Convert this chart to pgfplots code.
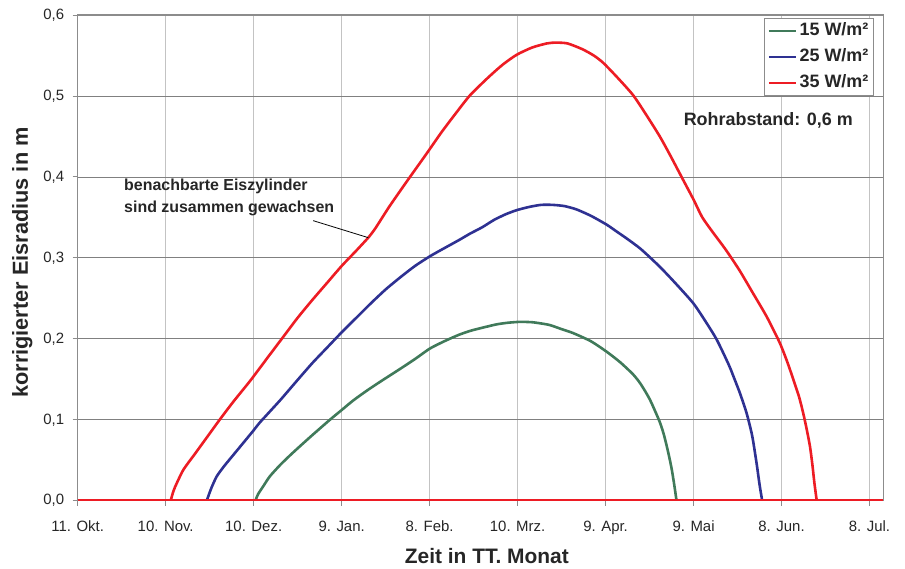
\documentclass[border=0pt]{standalone}
\usepackage{fontspec}
\setmainfont{Liberation Sans}
\usepackage{pgfplots}
\pgfplotsset{compat=1.18}
\definecolor{cGreen}{RGB}{64,122,90}
\definecolor{cBlue}{RGB}{46,49,146}
\definecolor{cRed}{RGB}{237,28,36}
\definecolor{gridV}{RGB}{195,195,195}
\definecolor{gridH}{RGB}{128,128,128}
\definecolor{frameC}{RGB}{140,140,140}

% zero lines (whole time span)
\pgfplotstableread{
x y
0 0
274.7 0
}\zerodata

\pgfplotstableread{
x y
60.6 0
61.5 0.008
63.3 0.018
65.5 0.030
69 0.044
72.4 0.056
76 0.068
80 0.081
86 0.100
90 0.112
94 0.124
99 0.137
104 0.149
110 0.163
115 0.175
120.1 0.188
125 0.197
130 0.205
134 0.210
138.3 0.214
143 0.218
147 0.220
151 0.221
155 0.2205
158 0.219
161 0.217
165 0.212
169 0.207
175 0.197
180.4 0.184
185 0.171
189.4 0.156
192 0.144
195.1 0.125
198.5 0.097
200 0.080
201.4 0.059
202.5 0.040
203.4 0.020
204.2 0
}\greendata

\pgfplotstableread{
x y
44 0
45.5 0.015
47.4 0.030
50 0.043
55 0.065
60 0.087
62.2 0.097
69 0.124
74.7 0.148
80 0.170
85 0.189
90 0.208
95 0.226
100 0.244
105 0.261
110 0.276
115 0.290
120.1 0.302
125 0.312
130 0.322
133.8 0.330
138 0.338
142 0.347
146 0.354
149.7 0.359
154 0.363
158 0.3655
162 0.3655
166 0.364
170 0.360
175 0.352
180.4 0.341
184 0.332
187.2 0.324
192 0.311
198.5 0.289
204 0.268
209.9 0.244
214 0.222
217.9 0.199
222 0.168
224.1 0.149
225.8 0.133
228.1 0.108
230 0.080
231.5 0.046
232.5 0.020
233.4 0
}\bluedata

\pgfplotstableread{
x y
31.7 0
32.4 0.009
33.2 0.017
36 0.038
40 0.058
44 0.078
48.2 0.099
53 0.122
59 0.149
65 0.178
70 0.202
75 0.226
80 0.248
85 0.269
90 0.290
95 0.309
99.1 0.325
}\reddataA

\pgfplotstableread{
x y
99.1 0.325
101.4 0.336
106 0.362
110 0.383
113.3 0.400
119 0.429
124 0.455
129 0.479
133.8 0.501
140 0.523
145 0.539
149.7 0.551
155 0.560
160 0.565
163 0.566
167 0.565
172 0.558
176 0.550
179.2 0.541
184 0.523
189.4 0.501
194 0.476
198.5 0.450
202 0.427
206.5 0.396
210 0.372
213 0.350
216.7 0.331
221 0.310
225.6 0.285
230 0.258
235 0.227
239.4 0.195
242 0.171
244 0.150
246 0.128
247.4 0.108
248.6 0.088
249.7 0.067
250.5 0.045
251.2 0.022
252 0
}\reddataB

\begin{document}
\begin{tikzpicture}
\useasboundingbox (0,0) rectangle (905bp,569bp);
\begin{axis}[
  at={(77.7bp,68.3bp)}, anchor=south west,
  scale only axis, width=805.6bp, height=485.6bp,
  xmin=0, xmax=274.7, ymin=0, ymax=0.6,
  axis line style={frameC, line width=1.2bp},
  xtick={0,30,60,90,120,150,180,210,240,270},
  xticklabels={11. Okt., 10. Nov., 10. Dez., 9. Jan., 8. Feb., 10. Mrz., 9. Apr., 9. Mai, 8. Jun., 8. Jul.},
  ytick={0,0.1,0.2,0.3,0.4,0.5,0.6},
  yticklabels={{0,0},{0,1},{0,2},{0,3},{0,4},{0,5},{0,6}},
  tick pos=left,
  tick align=outside,
  major tick length=5bp,
  tick style={frameC, line width=1bp},
  xmajorgrids, ymajorgrids,
  x grid style={gridV, line width=0.8bp},
  y grid style={gridH, line width=0.8bp},
  /pgf/number format/assume math mode=true,
  ticklabel style={font=\fontsize{15}{17}\selectfont, text=black!85},
  xticklabel style={anchor=base, yshift=-25.5bp},
  yticklabel style={anchor=east, xshift=-5bp},
  xlabel={Zeit in TT. Monat},
  ylabel={korrigierter Eisradius in m},
  xlabel style={at={(axis description cs:0.5078,-0.1283)}, anchor=base, font=\bfseries\fontsize{21}{24}\selectfont, text=black!85},
  ylabel style={at={(axis description cs:-0.0617,0.4905)}, anchor=base, font=\bfseries\fontsize{21.8}{24}\selectfont, text=black!85},
  legend style={at={(axis description cs:0.9876,0.9934)}, anchor=north east,
    draw=frameC, line width=0.8bp, fill=white, inner sep=3.5bp,
    row sep=8.5bp, column sep=1.5bp,
    font=\bfseries\fontsize{18}{20}\selectfont,
    nodes={inner sep=1bp, text height=12.5bp, text depth=3bp, text=black!85}},
  legend cell align=left,
  legend image code/.code={\draw[#1, line width=2.6bp] (0bp,0bp) -- (27bp,0bp);},
]
\addplot[cGreen, line width=2.6bp, smooth, tension=0.4, no markers] table {\greendata};
\addlegendentry{15 W/m²}
\addplot[cGreen, line width=2.6bp, no markers, forget plot] table {\zerodata};
\addplot[cBlue, line width=2.6bp, smooth, tension=0.4, no markers] table {\bluedata};
\addlegendentry{25 W/m²}
\addplot[cBlue, line width=2.6bp, no markers, forget plot] table {\zerodata};
\addplot[cRed, line width=2.6bp, smooth, tension=0.4, no markers] table {\reddataA};
\addlegendentry{35 W/m²}
\addplot[cRed, line width=2.6bp, smooth, tension=0.4, no markers, forget plot] table {\reddataB};
\addplot[cRed, line width=2.6bp, no markers, forget plot] table {\zerodata};
\draw[black, line width=0.8bp] (axis cs:80.3,0.346) -- (axis cs:99.1,0.325);
\node[anchor=west, align=left, inner sep=0pt, text=black!85, font=\bfseries\fontsize{16}{21.6}\selectfont] at (axis description cs:0.0575,0.6244) {benachbarte Eiszylinder\\sind zusammen gewachsen};
\node[anchor=east, inner sep=0pt, text=black!85, font=\bfseries\fontsize{18}{20}\selectfont] at (axis description cs:0.9624,0.784) {Rohrabstand: 0,6 m};
\end{axis}
\end{tikzpicture}
\end{document}
